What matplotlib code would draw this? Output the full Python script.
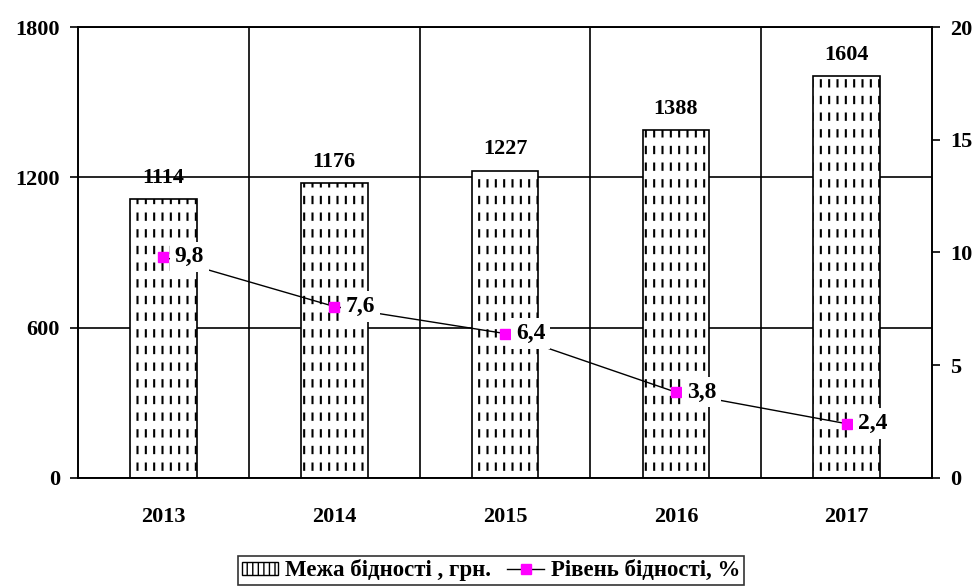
import numpy as np
import matplotlib
matplotlib.use("Agg")
import matplotlib.pyplot as plt

plt.rcParams['font.family'] = ['Liberation Serif', 'DejaVu Serif']
plt.rcParams['font.weight'] = 'bold'

years = ['2013', '2014', '2015', '2016', '2017']
limit_uah = [1114, 1176, 1227, 1388, 1604]
poverty_pct = [9.8, 7.6, 6.4, 3.8, 2.4]

x = np.arange(len(years))
w = 0.39
fs = 16

fig = plt.figure(figsize=(9.76, 5.87), dpi=100)
ax = fig.add_axes([0.080, 0.186, 0.875, 0.768])

# dashed vertical hatch: black lines, cut by thick white horizontal lines
plt.rcParams['hatch.linewidth'] = 1.5
bars = ax.bar(x, limit_uah, w, color='white', edgecolor='black', hatch='||', linewidth=0, zorder=2)
plt.rcParams['hatch.linewidth'] = 6.0
ax.bar(x, limit_uah, w, color='none', edgecolor='white', hatch='-', linewidth=0, zorder=2.1)
ax.bar(x, limit_uah, w, color='none', edgecolor='black', linewidth=1.2, zorder=2.2)
plt.rcParams['hatch.linewidth'] = 1.0

for xi, v in zip(x, limit_uah):
    ax.annotate(str(v), (xi, v), xytext=(0, 8), textcoords='offset points',
                ha='center', va='bottom', fontsize=fs, fontweight='bold')

ax.set_xlim(-0.5, len(years) - 0.5)
ax.set_ylim(0, 1800)
ax.set_yticks([0, 600, 1200, 1800])
ax.set_xticks(x)
ax.set_xticklabels(years)
ax.set_xticks(x[:-1] + 0.5, minor=True)
ax.tick_params(axis='x', which='both', length=0, pad=21, labelsize=fs)
ax.tick_params(axis='y', length=6, width=1.2, labelsize=fs, pad=7)
ax.grid(axis='y', which='major', color='black', linewidth=1.2, zorder=0)
ax.grid(axis='x', which='minor', color='black', linewidth=1.2, zorder=0)
ax.set_axisbelow(True)
for s in ax.spines.values():
    s.set_linewidth(1.2)

ax2 = ax.twinx()
ax2.set_ylim(0, 20)
ax2.set_yticks([0, 5, 10, 15, 20])
ax2.tick_params(axis='y', length=6, width=1.2, labelsize=fs, pad=7)
for s in ax2.spines.values():
    s.set_linewidth(1.2)
line, = ax2.plot(x, poverty_pct, color='black', linewidth=1, marker='s', markersize=7,
                 markerfacecolor='#ff00ff', markeredgecolor='#ff00ff', zorder=3)
for xi, v in zip(x, poverty_pct):
    ax2.annotate(f'{v:.1f}'.replace('.', ','), (xi, v), xytext=(8, 0), textcoords='offset points',
                 ha='left', va='center', fontsize=fs + 1, fontweight='bold',
                 bbox=dict(boxstyle='square,pad=0.2', fc='white', ec='none'), zorder=4)

# legend proxy for the hatched bars
from matplotlib.patches import Patch
bar_handle = Patch(facecolor='white', edgecolor='black', hatch='|||', linewidth=1)

leg = fig.legend([bar_handle, line], ['Межа бідності , грн.', 'Рівень бідності, %'],
                 loc='lower center', bbox_to_anchor=(0.503, 0.0), ncol=2, frameon=True,
                 fancybox=False, prop={'weight': 'bold', 'size': fs + 0.5},
                 handlelength=1.6, handleheight=0.5, handletextpad=0.3, columnspacing=0.7,
                 borderpad=0.15, borderaxespad=0.1)
leg.get_frame().set_edgecolor('black')
leg.get_frame().set_linewidth(1.2)

fig.savefig('out.png', dpi=100)
